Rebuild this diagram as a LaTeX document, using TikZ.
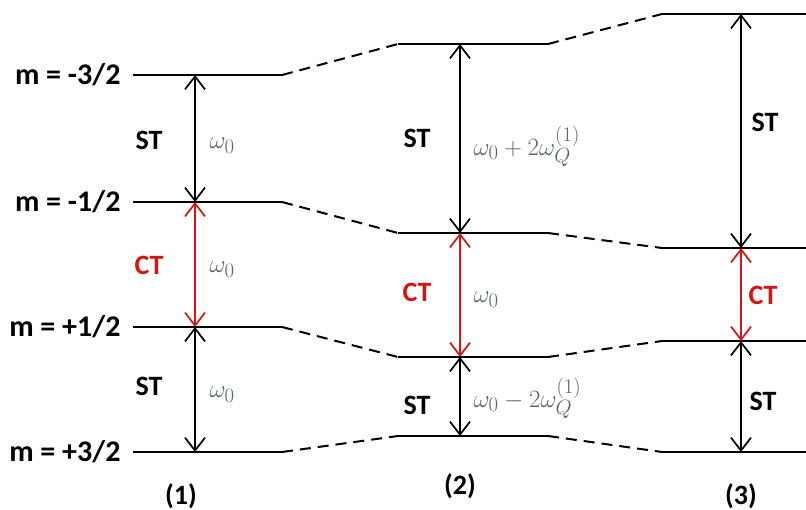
\documentclass[tikz,border=0pt]{standalone}
\usepackage{fontspec}
\setmainfont{Carlito}
\usetikzlibrary{arrows.meta}
\definecolor{omg}{RGB}{85,100,110}
\definecolor{ctred}{RGB}{215,20,20}
\begin{document}
\begin{tikzpicture}[x=1pt,y=-1pt,
  level/.style={line width=2.2pt},
  conn/.style={line width=2pt,dash pattern=on 11pt off 7pt},
  trans/.style={line width=1.7pt,{Straight Barb[length=13pt,width=20pt,line width=1.7pt]}-{Straight Barb[length=13pt,width=20pt,line width=1.7pt]}},
  lab/.style={font=\fontsize{28}{30}\selectfont\bfseries},
  mlab/.style={font=\fontsize{30}{32}\selectfont\bfseries,anchor=east},
  freq/.style={text=omg,font=\fontsize{31}{33}\selectfont,anchor=west}]
\useasboundingbox (0,0) rectangle (806,510);
% level coordinates
\foreach \n/\y in {a/75,b/202,c/327,d/452}{
  \coordinate (L1\n) at (133,\y); \coordinate (R1\n) at (282,\y); \coordinate (A1\n) at (195,\y);}
\foreach \n/\y in {a/44,b/233,c/357,d/436}{
  \coordinate (L2\n) at (398,\y); \coordinate (R2\n) at (548,\y); \coordinate (A2\n) at (460,\y);}
\foreach \n/\y in {a/14,b/248,c/341,d/452}{
  \coordinate (L3\n) at (662,\y); \coordinate (R3\n) at (806,\y); \coordinate (A3\n) at (741,\y);}
% levels
\foreach \c in {1,2,3}{\foreach \n in {a,b,c,d}{\draw[level] (L\c\n) -- (R\c\n);}}
% dashed connectors
\foreach \n in {a,b,c,d}{
  \draw[conn] (R1\n) -- (L2\n);
  \draw[conn] (R2\n) -- (L3\n);}
% transitions
\foreach \c in {1,2,3}{
  \draw[trans] (A\c a) -- (A\c b);
  \draw[trans,ctred] (A\c b) -- (A\c c);
  \draw[trans] (A\c c) -- (A\c d);}
% m labels
\node[mlab] (m1) at (124,75) {m = -3/2};
\node[mlab] (m2) at (124,202) {m = -1/2};
\node[mlab] (m3) at (124,327) {m = +1/2};
\node[mlab] (m4) at (124,452) {m = +3/2};
% column 1
\node[lab] (st1a) at (149,140) {ST};
\node[lab,text=ctred] (ct1) at (149,265) {CT};
\node[lab] (st1b) at (149,386) {ST};
\node[freq] (f1a) at (206,146) {$\omega_0$};
\node[freq] (f1b) at (206,270) {$\omega_0$};
\node[freq] (f1c) at (206,395) {$\omega_0$};
% column 2
\node[lab] (st2a) at (417,138) {ST};
\node[lab,text=ctred] (ct2) at (417,292) {CT};
\node[lab] (st2b) at (417,405) {ST};
\node[freq] (f2a) at (470,146) {$\omega_0+2\omega_Q^{(1)}$};
\node[freq] (f2b) at (470,300) {$\omega_0$};
\node[freq] (f2c) at (470,398) {$\omega_0-2\omega_Q^{(1)}$};
% column 3
\node[lab] (st3a) at (765,122) {ST};
\node[lab,text=ctred] (ct3) at (763,295) {CT};
\node[lab] (st3b) at (763,401) {ST};
% column captions
\node[lab] (c1) at (181,496) {(1)};
\node[lab] (c2) at (460,486) {(2)};
\node[lab] (c3) at (741,496) {(3)};
\end{tikzpicture}
\end{document}
